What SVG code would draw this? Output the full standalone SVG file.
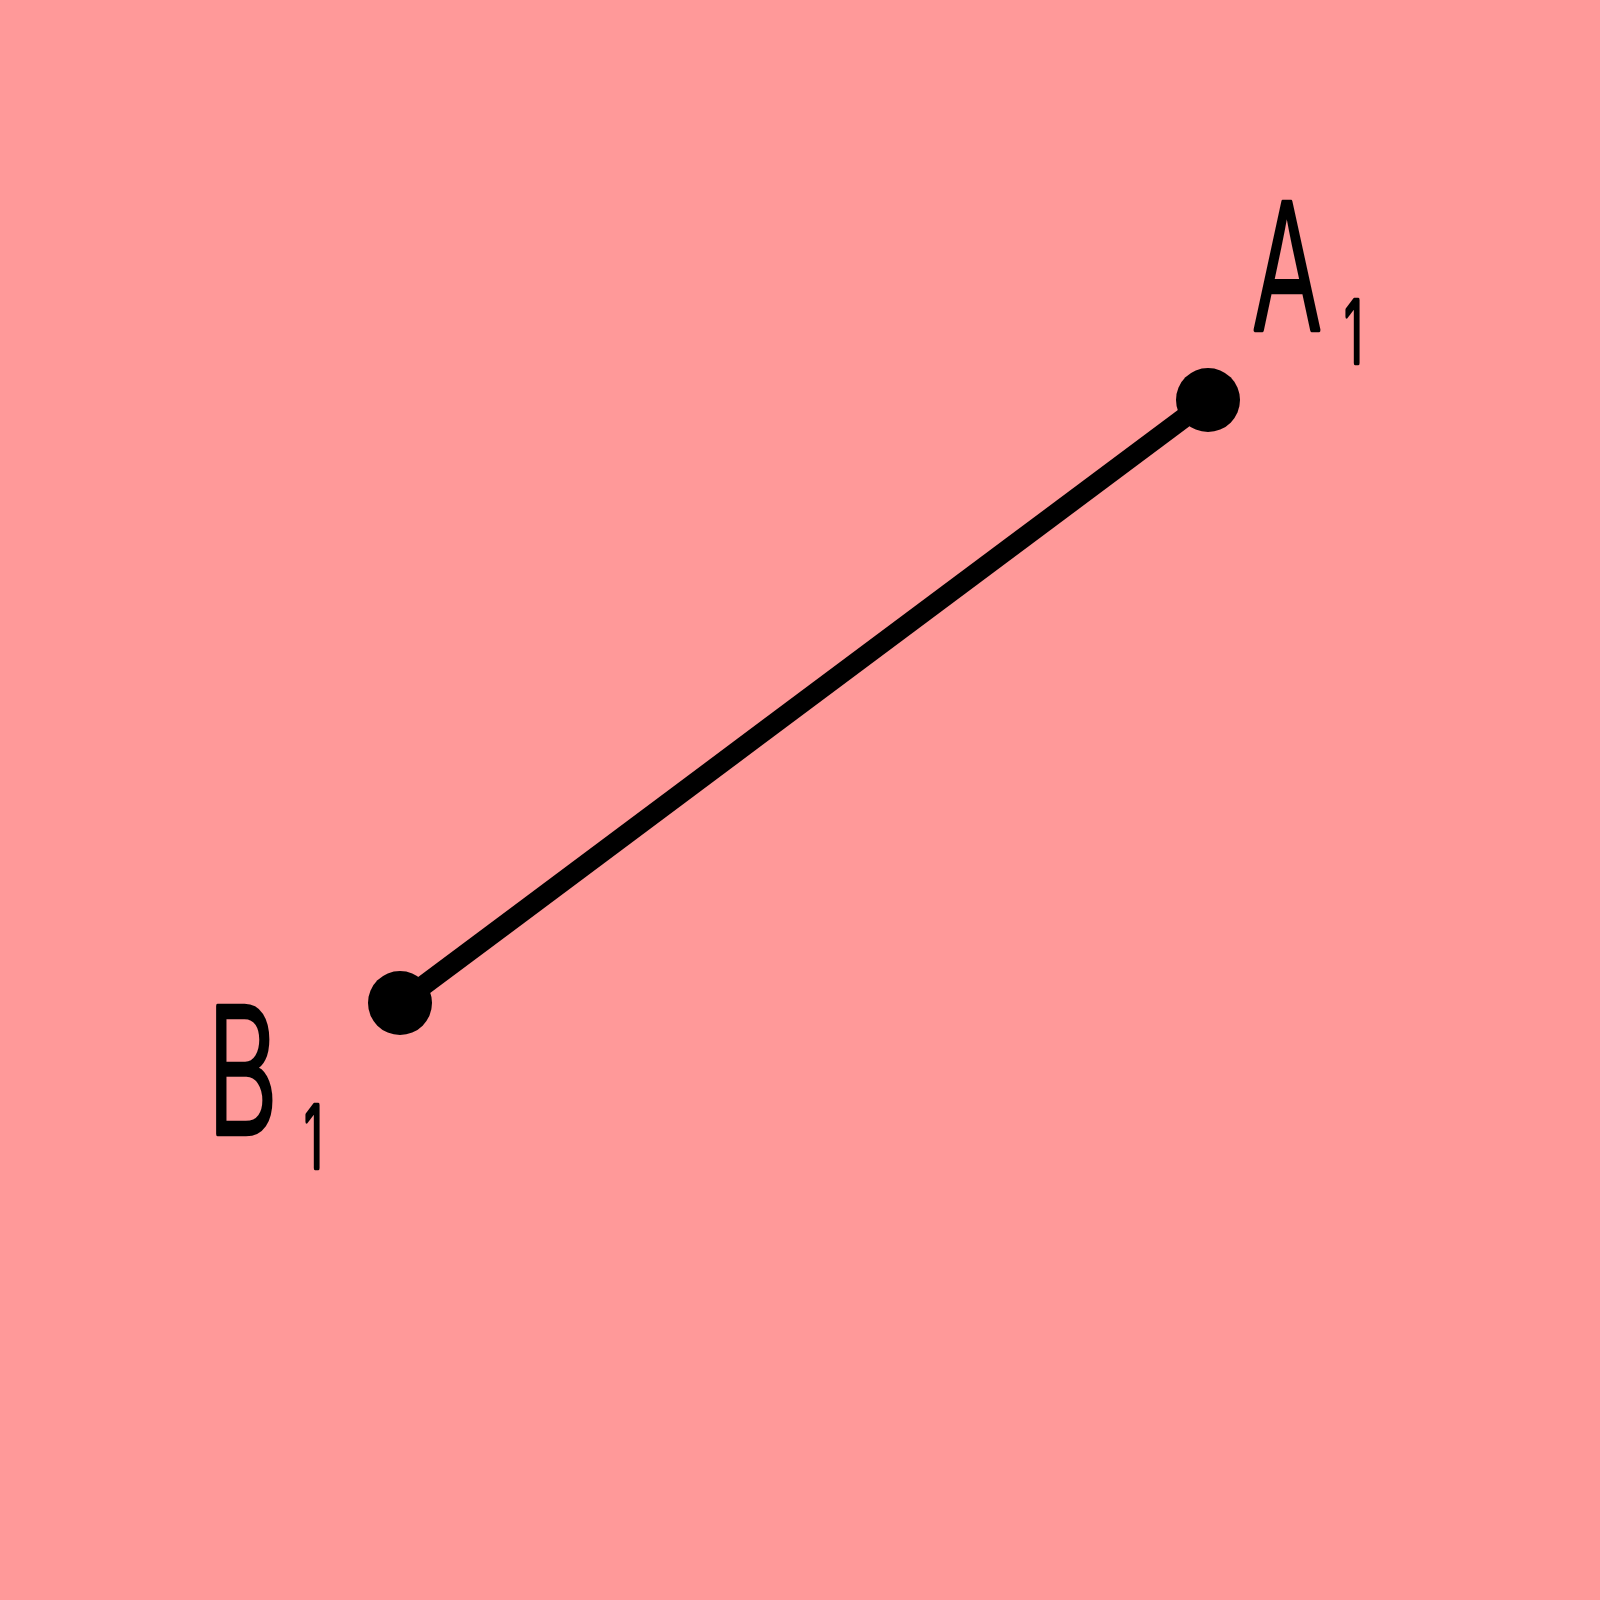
<svg xmlns="http://www.w3.org/2000/svg" width="1600" height="1600" viewBox="0 0 1600 1600">
<style>
.lbl{font-family:Inter,"DejaVu Sans",sans-serif;font-weight:300;fill:#000;stroke:#000;stroke-width:4.5;stroke-linejoin:round;stroke-linecap:round}
.pt{fill:#000}
</style>
<rect width="1600" height="1600" fill="#ff9999"/>
<g id="connectors">
<line x1="400" y1="1003" x2="1208" y2="400" stroke="#000" stroke-width="20"/>
</g>
<g id="A1">
<circle class="pt" cx="1208" cy="400" r="32"/>
<text class="lbl" font-size="176"><tspan x="1252" y="330" textLength="70" lengthAdjust="spacingAndGlyphs">A</tspan><tspan x="1344" y="363" font-size="87" textLength="19" lengthAdjust="spacingAndGlyphs">1</tspan></text>
</g>
<g id="B1">
<circle class="pt" cx="400" cy="1003" r="32"/>
<text class="lbl" font-size="176"><tspan x="207" y="1134" textLength="71" lengthAdjust="spacingAndGlyphs">B</tspan><tspan x="304" y="1168" font-size="87" textLength="19" lengthAdjust="spacingAndGlyphs">1</tspan></text>
</g>
</svg>
